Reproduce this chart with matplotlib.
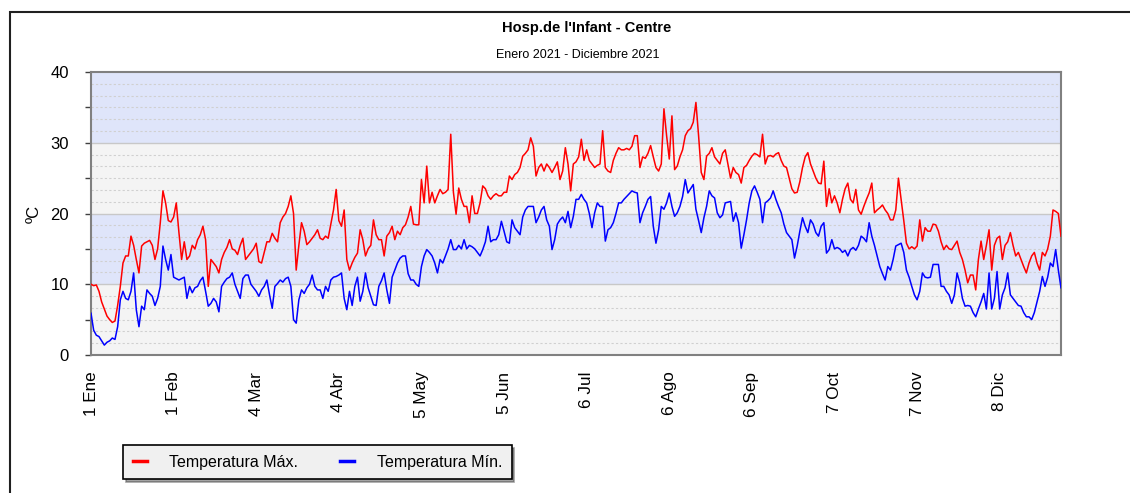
import matplotlib
matplotlib.use('Agg')
import matplotlib.pyplot as plt
from matplotlib.patches import Rectangle
from matplotlib.ticker import MultipleLocator

# Datos diarios 2021
t_max = [
    10.0, 9.8, 9.9, 9.0, 7.5, 6.5, 5.5, 5.0, 4.6, 4.8,
    7.0, 9.7, 13.0, 14.0, 14.0, 16.8, 15.5, 13.5, 11.6, 15.4,
    15.8, 16.0, 16.2, 15.5, 13.5, 15.0, 18.7, 23.2, 21.5, 19.0,
    18.8, 19.5, 21.5, 17.3, 13.5, 16.0, 13.5, 14.0, 15.5, 15.0,
    16.3, 17.0, 18.2, 16.3, 9.7, 13.5, 13.0, 12.5, 11.6, 13.5,
    14.5, 15.2, 16.3, 15.0, 14.8, 14.2, 15.5, 16.5, 13.5, 14.0,
    14.5, 15.0, 15.8, 13.2, 13.0, 14.5, 16.0, 16.0, 17.2, 16.5,
    16.0, 18.7, 19.5, 20.0, 21.0, 22.5, 20.0, 12.0, 15.5, 18.7,
    17.5, 15.6, 16.0, 16.5, 17.0, 17.7, 16.5, 16.3, 16.8, 16.5,
    18.5, 20.5, 23.4, 19.0, 18.2, 20.5, 13.5, 12.0, 13.0, 13.8,
    14.4, 17.7, 16.3, 14.0, 15.0, 15.5, 19.1, 17.0, 16.3, 16.3,
    14.0, 16.8, 17.3, 18.2, 16.3, 17.5, 17.0, 18.0, 18.4, 19.5,
    21.0, 18.5, 18.4, 18.4, 24.8, 21.5, 26.7, 21.5, 23.0, 21.5,
    22.5, 23.4, 22.8, 23.0, 23.4, 31.2, 23.0, 19.9, 23.6, 22.0,
    21.0, 21.0, 18.7, 22.5, 20.0, 20.0, 21.5, 23.9, 23.5, 22.5,
    22.0, 22.5, 22.8, 22.5, 22.5, 23.0, 23.0, 25.3, 24.8, 25.5,
    25.8, 26.5, 28.1, 28.5, 29.0, 30.7, 29.5, 25.3, 26.5, 27.0,
    26.0, 27.0, 26.5, 25.8, 26.5, 27.3, 24.8, 26.0, 29.3, 27.0,
    23.2, 27.0, 27.3, 28.0, 30.5, 27.5, 29.0, 27.5, 27.0, 26.5,
    26.8, 27.0, 31.7, 26.5, 26.0, 25.8, 27.5, 28.5, 29.3, 29.0,
    29.0, 29.2, 29.0, 29.5, 31.0, 31.0, 26.5, 28.0, 27.8, 28.5,
    29.6, 28.0, 26.5, 26.0, 27.0, 34.8, 31.0, 27.7, 33.8, 26.2,
    26.7, 28.0, 29.0, 31.0, 31.7, 32.0, 32.9, 35.7, 31.0, 25.8,
    24.8, 28.1, 28.5, 29.3, 28.0, 27.5, 27.0, 28.5, 29.0, 27.0,
    25.0, 26.5, 25.8, 25.5, 24.3, 26.5, 26.8, 27.5, 28.1, 28.5,
    28.3, 28.0, 31.2, 27.0, 28.1, 28.2, 28.0, 28.4, 28.6, 27.5,
    26.7, 26.5, 25.0, 23.5, 22.9, 23.0, 24.5, 26.5, 28.0, 28.6,
    27.0, 26.0, 25.0, 24.3, 24.2, 27.4, 21.0, 23.5, 21.5, 22.5,
    21.5, 20.1, 22.0, 23.5, 24.3, 22.0, 21.5, 23.4, 20.5, 19.9,
    21.0, 22.0, 22.9, 24.3, 20.1, 20.5, 20.8, 21.2, 20.5, 20.0,
    19.1, 19.1, 20.5, 25.0, 22.0, 19.0, 15.8, 15.0, 15.3, 15.0,
    15.4, 19.1, 16.1, 18.0, 17.5, 17.5, 18.5, 18.4, 17.5, 16.0,
    14.9, 15.5, 15.0, 14.9, 15.5, 16.1, 14.5, 13.5, 12.0, 10.2,
    11.3, 11.3, 9.2, 13.5, 16.1, 13.5, 15.5, 17.7, 12.0, 15.5,
    16.5, 16.8, 13.5, 15.5, 16.0, 17.3, 15.5, 14.0, 14.5, 13.5,
    12.5, 11.6, 13.0, 14.0, 14.5, 13.0, 12.0, 14.5, 14.0, 15.0,
    16.8, 20.5, 20.3, 20.0, 16.8,
]

t_min = [
    5.9, 3.5, 2.8, 2.6, 2.0, 1.4, 1.8, 2.0, 2.4, 2.2,
    4.0, 7.8, 9.0, 8.0, 7.8, 9.0, 11.6, 6.4, 4.0, 6.9,
    6.4, 9.2, 8.7, 8.3, 7.0, 8.0, 9.7, 15.4, 13.5, 12.0,
    14.2, 11.0, 10.8, 10.6, 10.8, 11.0, 8.0, 9.7, 8.8, 9.5,
    9.7, 10.5, 11.0, 9.0, 6.9, 7.3, 8.0, 7.5, 6.1, 9.7,
    10.3, 10.8, 11.0, 11.6, 10.0, 9.0, 8.0, 10.8, 11.3, 11.3,
    10.0, 9.5, 9.0, 8.3, 9.2, 9.7, 10.6, 8.5, 6.6, 9.7,
    10.1, 10.6, 10.3, 10.8, 11.0, 9.7, 5.0, 4.5, 7.8, 9.2,
    8.7, 9.5, 10.0, 11.3, 9.7, 9.2, 9.2, 8.0, 9.7, 9.0,
    10.6, 11.0, 11.1, 11.3, 11.6, 8.0, 6.4, 9.0, 7.0, 9.7,
    11.0, 7.6, 9.0, 11.6, 9.5, 8.3, 7.1, 7.0, 9.7, 10.5,
    11.6, 9.2, 7.3, 11.0, 12.0, 13.0, 13.7, 14.0, 14.0, 11.5,
    10.6, 10.6, 10.0, 9.7, 12.5, 14.0, 14.9, 14.5, 14.0, 13.0,
    11.6, 13.5, 13.0, 14.0, 15.0, 16.3, 14.9, 14.9, 15.5, 15.0,
    16.3, 15.0, 15.5, 15.3, 15.0, 14.5, 14.0, 14.9, 16.0, 18.2,
    16.0, 16.3, 16.3, 17.0, 18.9, 17.5, 16.0, 15.8, 19.1, 18.0,
    17.5, 17.0, 19.5, 20.5, 21.0, 21.0, 21.0, 18.7, 19.5, 20.5,
    21.0, 19.1, 18.2, 14.9, 16.3, 18.5, 19.1, 19.5, 18.7, 20.3,
    18.0, 19.6, 22.0, 22.0, 22.7, 22.0, 21.5, 20.0, 18.0, 20.1,
    21.5, 21.0, 21.0, 16.1, 17.7, 18.0, 18.7, 20.0, 21.5, 21.5,
    22.0, 22.4, 22.8, 23.2, 23.0, 22.9, 18.7, 20.1, 21.0, 22.0,
    22.4, 18.2, 15.8, 17.7, 21.0, 20.6, 21.5, 22.9, 21.0, 19.6,
    20.1, 21.0, 22.4, 24.8, 22.9, 23.5, 24.1, 20.6, 19.0, 17.3,
    19.4, 21.0, 23.2, 22.5, 22.2, 20.1, 19.4, 19.8, 21.5, 21.6,
    21.7, 18.9, 20.1, 18.7, 15.1, 17.0, 19.1, 21.5, 23.2, 23.9,
    23.0, 22.0, 18.7, 21.5, 21.8, 22.2, 23.2, 22.0, 21.0, 20.1,
    18.5, 17.3, 16.8, 16.3, 13.7, 15.4, 17.5, 19.4, 18.2, 17.3,
    19.1, 18.5, 17.3, 16.8, 18.2, 18.7, 14.4, 14.9, 16.3, 15.0,
    15.2, 15.0, 14.5, 14.8, 14.0, 14.9, 15.2, 14.8, 15.5, 16.8,
    16.5, 16.0, 18.7, 16.8, 15.5, 14.0, 12.5, 11.5, 10.6, 12.5,
    12.0, 13.5, 15.4, 15.6, 15.8, 14.5, 12.0, 11.0, 9.7, 8.5,
    7.8, 9.0, 11.6, 11.0, 10.9, 11.0, 12.8, 12.8, 12.8, 9.7,
    9.7, 9.0, 8.5, 7.3, 8.5, 11.6, 10.2, 8.0, 6.9, 7.0,
    6.9, 6.0, 5.4, 6.5, 7.5, 8.7, 6.5, 11.6, 6.5, 8.0,
    11.8, 6.5, 8.5, 9.5, 11.6, 8.5, 8.0, 7.5, 7.0, 6.9,
    6.0, 5.4, 5.4, 5.0, 6.0, 7.5, 9.0, 11.1, 9.7, 11.0,
    13.0, 12.5, 14.9, 12.0, 9.5,
]

tick_pos = [0, 31, 62, 93, 124, 155, 186, 217, 248, 279, 310, 341]
tick_labels = ['1 Ene', '1 Feb', '4 Mar', '4 Abr', '5 May', '5 Jun',
               '6 Jul', '6 Ago', '6 Sep', '7 Oct', '7 Nov', '8 Dic']

plt.rcParams['font.family'] = ['Liberation Sans', 'DejaVu Sans']

fig = plt.figure(figsize=(11.3, 4.93), dpi=100)
fig.patch.set_facecolor('white')

# Marco exterior (arriba e izquierda)
fig.add_artist(Rectangle((10 / 1130, -0.01), 1.2, (493 - 12) / 493 + 0.01,
                         transform=fig.transFigure, fill=False,
                         edgecolor='#202020', linewidth=1.5))

ax = fig.add_axes([91 / 1130, 138 / 493, 970 / 1130, 283 / 493])
dias = list(range(len(t_max)))

# Bandas de fondo
for lo, color in [(0, '#f4f4f4'), (10, '#dfe5fa'), (20, '#f4f4f4'), (30, '#dfe5fa')]:
    ax.axhspan(lo, lo + 10, color=color, zorder=0, linewidth=0)

# Rejilla punteada
k = 0
while k * 10 / 6 < 40:
    y = k * 10 / 6
    if k % 6 != 0:
        ax.axhline(y, color='#d0d0d0', linestyle=(0, (2, 2)), linewidth=0.8, zorder=1)
    k += 1
for y in [10, 20, 30]:
    ax.axhline(y, color='#c8c8c8', linewidth=1.0, zorder=1)

ax.plot(dias, t_max, color='#ff0000', linewidth=1.1, zorder=3, label='Temperatura Máx.')
ax.plot(dias, t_min, color='#0000ff', linewidth=1.1, zorder=3, label='Temperatura Mín.')

ax.set_xlim(0, len(t_max) - 1)
ax.set_ylim(0, 40)
ax.set_xticks(tick_pos)
ax.set_xticklabels(tick_labels, rotation=90, fontsize=12.3)
ax.tick_params(axis='x', length=0, pad=12)
ax.yaxis.set_major_locator(MultipleLocator(10))
ax.yaxis.set_minor_locator(MultipleLocator(5))
ax.tick_params(axis='y', which='both', length=4, width=1, color='#404040',
               labelsize=12, pad=12)
ax.set_ylabel('ºC', fontsize=12, labelpad=6)

for s in ax.spines.values():
    s.set_color('#808080')
    s.set_linewidth(1.5)

fig.text(587 / 1130, 1 - 28 / 493, "Hosp.de l'Infant - Centre", ha='center', va='center',
         fontsize=10.5, fontweight='bold')
fig.text(578 / 1130, 1 - 55 / 493, 'Enero 2021 - Diciembre 2021', ha='center', va='center',
         fontsize=9)

leg = fig.legend(loc='center left', bbox_to_anchor=(115 / 1130, 1 - 462 / 493), ncol=2,
                 fontsize=11.5, frameon=True, shadow=True, fancybox=False,
                 handlelength=0.9, handletextpad=1.4, columnspacing=2.6, borderpad=0.6)
leg.get_frame().set_facecolor('#f0f0f0')
leg.get_frame().set_edgecolor('#000000')
leg.get_frame().set_linewidth(1.2)
for line in leg.get_lines():
    line.set_linewidth(2.5)

fig.savefig('out.png', dpi=100)
